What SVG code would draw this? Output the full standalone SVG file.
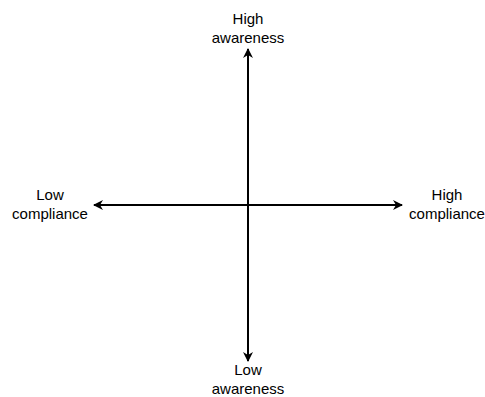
<svg xmlns="http://www.w3.org/2000/svg" width="485" height="397" viewBox="0 0 485 397">
<style>
text{font-family:"Liberation Sans",Arial,sans-serif;font-size:15px;fill:#000;text-anchor:middle}
.ax{stroke:#000;stroke-width:2;fill:none}
</style>
<defs>
<marker id="ah" viewBox="0 0 12 12" refX="10" refY="6" markerWidth="12" markerHeight="12" markerUnits="userSpaceOnUse" orient="auto">
<path d="M1,1 L11,6 L1,11 L4,6 Z" fill="#000"/>
</marker>
</defs>
<rect width="485" height="397" fill="#fff"/>
<g id="connectors">
<line class="ax" x1="248" y1="205" x2="248" y2="49" marker-end="url(#ah)"/>
<line class="ax" x1="248" y1="205" x2="248" y2="361" marker-end="url(#ah)"/>
<line class="ax" x1="248" y1="205" x2="94" y2="205" marker-end="url(#ah)"/>
<line class="ax" x1="248" y1="205" x2="402" y2="205" marker-end="url(#ah)"/>
</g>
<g id="high-awareness"><text x="248" y="24">High</text><text x="248" y="43">awareness</text></g>
<g id="low-awareness"><text x="248" y="375">Low</text><text x="248" y="394">awareness</text></g>
<g id="low-compliance"><text x="50" y="200">Low</text><text x="50" y="219">compliance</text></g>
<g id="high-compliance"><text x="447" y="200">High</text><text x="447" y="219">compliance</text></g>
</svg>
